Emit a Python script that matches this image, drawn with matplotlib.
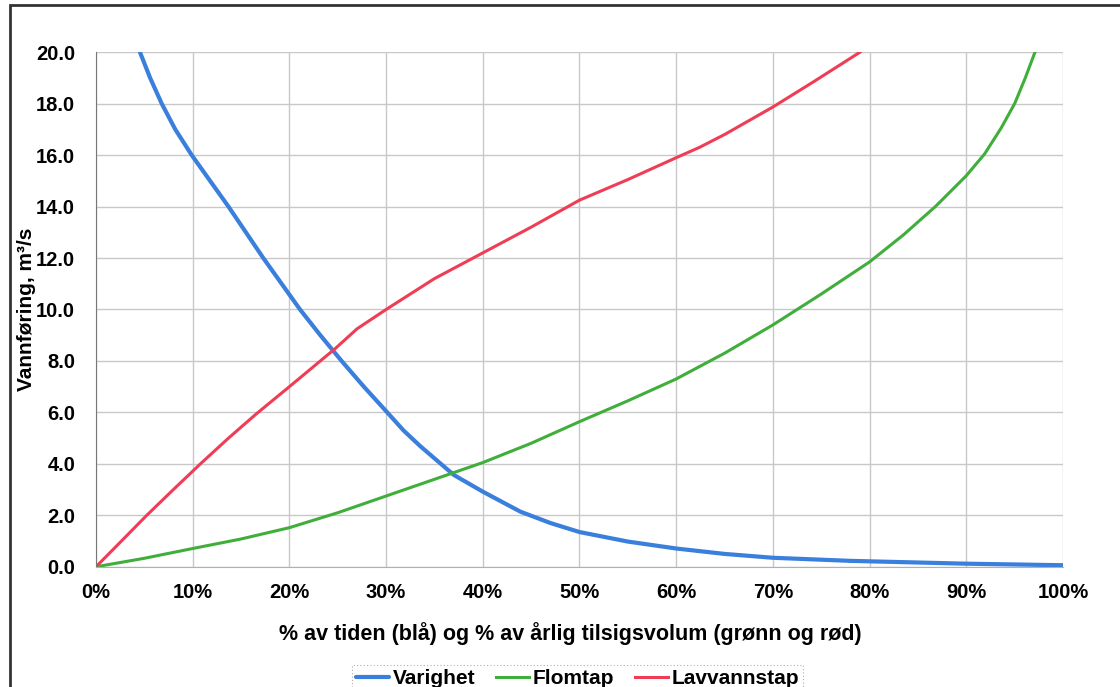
import matplotlib
matplotlib.use("Agg")
import matplotlib.pyplot as plt
from matplotlib.patches import Rectangle
from matplotlib.ticker import FuncFormatter

plt.rcParams['font.family'] = ['Liberation Sans', 'DejaVu Sans']
plt.rcParams['font.weight'] = 'bold'

# Varighet (blå): % av tiden
varighet_x = [4.55, 5.6, 6.8, 8.2, 9.9, 11.8, 13.7, 15.5, 17.3, 19.2, 21.1, 23.2, 25.4, 27.7, 30.0, 31.8, 33.5, 35.2, 37.0, 40.0, 43.9, 47.0, 50, 55, 60, 65, 70, 78, 90, 100]
varighet_y = [20.0, 19.0, 18.0, 17.0, 16.0, 15.0, 14.0, 13.0, 12.0, 11.0, 10.0, 9.0, 8.0, 7.0, 6.05, 5.3, 4.7, 4.15, 3.57, 2.92, 2.14, 1.7, 1.35, 0.98, 0.71, 0.5, 0.35, 0.23, 0.12, 0.06]

# Flomtap (grønn): % av årlig tilsigsvolum
flomtap_x = [0, 5, 10, 15, 20, 25, 30, 35, 40, 45, 50, 55, 60, 65, 70, 75, 80, 83.5, 86.8, 90, 91.9, 93.6, 95.0, 96.1, 97.1]
flomtap_y = [0.0, 0.33, 0.71, 1.08, 1.52, 2.1, 2.75, 3.4, 4.05, 4.8, 5.64, 6.45, 7.3, 8.3, 9.4, 10.6, 11.85, 12.9, 14.0, 15.2, 16.05, 17.05, 18.0, 19.0, 20.0]

# Lavvannstap (rød): % av årlig tilsigsvolum
lavvann_x = [0, 2.5, 5.25, 8, 10.8, 13.7, 16.6, 20, 23.2, 24.8, 27, 30, 32.5, 35, 40, 45, 50, 55, 60, 62.4, 65, 70, 74.2, 79]
lavvann_y = [0.0, 0.95, 2.0, 3.0, 4.0, 5.0, 5.95, 7.0, 8.0, 8.5, 9.25, 10.0, 10.6, 11.2, 12.2, 13.2, 14.25, 15.05, 15.9, 16.3, 16.8, 17.87, 18.85, 20.0]

x_ticks = list(range(0, 101, 10))
y_ticks = [0, 2, 4, 6, 8, 10, 12, 14, 16, 18, 20]

fig = plt.figure(figsize=(11.2, 6.87), dpi=100)
ax = fig.add_axes([0.0857, 0.175, 0.8634, 0.749])

ax.plot(varighet_x, varighet_y, color='#3a7fdc', lw=3.0, label='Varighet', solid_capstyle='round')
ax.plot(flomtap_x, flomtap_y, color='#3fae3a', lw=2.2, label='Flomtap')
ax.plot(lavvann_x, lavvann_y, color='#f03d56', lw=2.2, label='Lavvannstap')

ax.set_xlim(0, 100)
ax.set_ylim(0, 20)
ax.set_xticks(x_ticks)
ax.set_yticks(y_ticks)
ax.xaxis.set_major_formatter(FuncFormatter(lambda v, p: f"{v:.0f}%"))
ax.yaxis.set_major_formatter(FuncFormatter(lambda v, p: f"{v:.1f}"))
ax.tick_params(labelsize=14.5, length=0)
ax.tick_params(axis='x', pad=12)
ax.tick_params(axis='y', pad=15)
for lbl in ax.get_xticklabels() + ax.get_yticklabels():
    lbl.set_fontweight('bold')

ax.grid(True, color='#c8c8c8', lw=1.0)
for s in ['top', 'right']:
    ax.spines[s].set_visible(False)
ax.spines['left'].set_color('#777777')
ax.spines['bottom'].set_color('#b0b0b0')
ax.set_axisbelow(True)

ax.set_xlabel('% av tiden (blå) og % av årlig tilsigsvolum (grønn og rød)', fontsize=15.5, fontweight='bold', labelpad=14)
ax.xaxis.label.set_x(0.491)
ax.set_ylabel('Vannføring, m³/s', fontsize=15, fontweight='bold', labelpad=0)

leg = fig.legend(loc='upper center', bbox_to_anchor=(0.5156, 0.047), ncol=3, fontsize=15,
                 frameon=True, fancybox=False, handlelength=1.6, handletextpad=0.15, columnspacing=1.0,
                 borderpad=0.2)
leg.get_frame().set_edgecolor('#999999')
leg.get_frame().set_linestyle((0, (1, 2)))
leg.get_frame().set_linewidth(0.8)
for t in leg.get_texts():
    t.set_fontweight('bold')

# ytre ramme
fig.patches.append(Rectangle((10 / 1120, -0.1), 1.2, 1.1 - 5 / 687, transform=fig.transFigure,
                             fill=False, edgecolor='#333333', lw=2.0, clip_on=False))

fig.savefig('out.png', dpi=100)
